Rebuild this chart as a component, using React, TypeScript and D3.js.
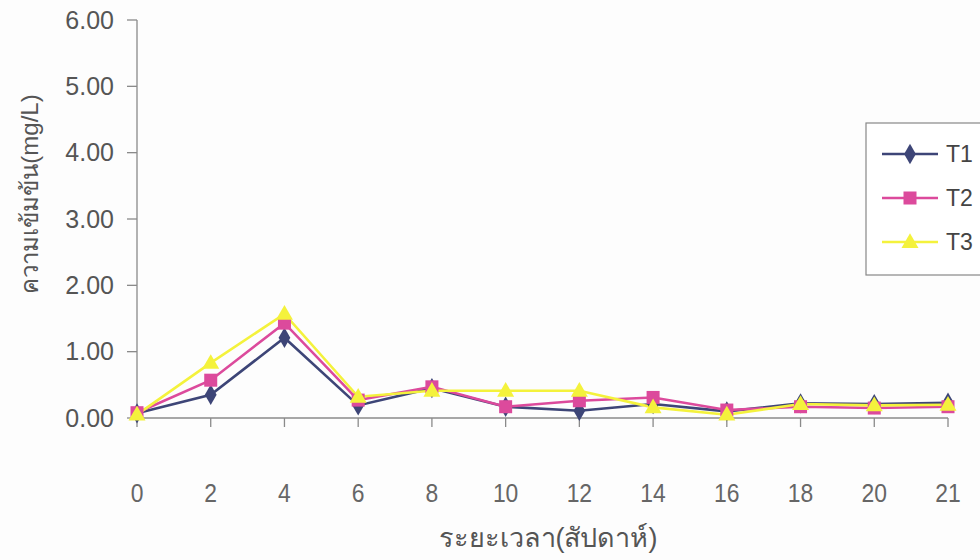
import React from "react";
import * as d3 from "d3";

const weeks = ["0", "2", "4", "6", "8", "10", "12", "14", "16", "18", "20", "21"];
const t1 = [0.07, 0.35, 1.21, 0.19, 0.45, 0.17, 0.11, 0.21, 0.1, 0.22, 0.21, 0.23];
const t2 = [0.08, 0.57, 1.43, 0.27, 0.47, 0.17, 0.26, 0.31, 0.12, 0.17, 0.15, 0.17];
const t3 = [0.05, 0.83, 1.57, 0.32, 0.41, 0.41, 0.41, 0.16, 0.05, 0.21, 0.19, 0.2];
const yTicks = [0, 1, 2, 3, 4, 5, 6];
const seriesNames = ["T1", "T2", "T3"];
const seriesColors = ["#3d4577", "#dc4a9c", "#f4f23c"];
const seriesMarkers = ["diamond", "square", "triangle"];

const W = 980, H = 560;
const x = d3.scalePoint<string>().domain(weeks).range([137, 948]);
const y = d3.scaleLinear().domain([0, 6]).range([418, 20]);

function marker(type: string, cx: number, cy: number, color: string, key?: string | number) {
  if (type === "diamond") {
    const s = d3.symbol(d3.symbolDiamond, 120)();
    return <path key={key} d={s || ""} transform={`translate(${cx},${cy})`} fill={color} />;
  }
  if (type === "square") {
    return <rect key={key} x={cx - 6.5} y={cy - 6.5} width={13} height={13} fill={color} />;
  }
  const s = d3.symbol(d3.symbolTriangle, 125)();
  return <path key={key} d={s || ""} transform={`translate(${cx},${cy + 1})`} fill={color} />;
}

export default function App() {
  const data = [t1, t2, t3];
  const line = d3
    .line<number>()
    .x((_, i) => x(weeks[i]) as number)
    .y((d) => y(d));
  const font = "'Liberation Sans', Arial, 'Noto Sans', sans-serif";
  return (
    <svg
      width={W}
      height={H}
      style={{ position: "absolute", left: 0, top: 0, background: "#fdfdfd" }}
      fontFamily={font}
    >
      {/* y axis */}
      <line x1={137} x2={137} y1={y(6)} y2={y(0)} stroke="#8a8a8a" strokeWidth={1.3} />
      {yTicks.map((t) => (
        <g key={t}>
          <line x1={127} x2={137} y1={y(t)} y2={y(t)} stroke="#8a8a8a" strokeWidth={1.3} />
          <text x={114} y={y(t)} dy="0.35em" textAnchor="end" fontSize={25} fill="#555">
            {t.toFixed(2)}
          </text>
        </g>
      ))}
      {/* x axis */}
      <line x1={137} x2={948} y1={y(0)} y2={y(0)} stroke="#8a8a8a" strokeWidth={1.3} />
      {weeks.map((w) => (
        <g key={w}>
          <line x1={x(w)} x2={x(w)} y1={y(0)} y2={y(0) + 9} stroke="#8a8a8a" strokeWidth={1.3} />
          <text
            x={x(w)}
            y={502}
            textAnchor="middle"
            fontSize={26}
            fill="#666"
            transform={`translate(${x(w)!},0) scale(0.88,1) translate(${-x(w)!},0)`}
          >
            {w}
          </text>
        </g>
      ))}
      {/* series lines */}
      {data.map((d, i) => (
        <path key={i} d={line(d) || ""} fill="none" stroke={seriesColors[i]} strokeWidth={2.6} />
      ))}
      {data.map((d, i) => (
        <g key={"m" + i}>
          {d.map((v, j) => marker(seriesMarkers[i], x(weeks[j]) as number, y(v), seriesColors[i], j))}
        </g>
      ))}
      {/* axis titles */}
      <text
        transform="translate(38,194) rotate(-90)"
        textAnchor="middle"
        fontSize={24}
        fill="#555"
      >
        ความเข้มข้น(mg/L)
      </text>
      <text x={548} y={547} textAnchor="middle" fontSize={27} fill="#555">
        ระยะเวลา(สัปดาห์)
      </text>
      {/* legend */}
      <rect x={866} y={123} width={130} height={152} fill="#fff" stroke="#888" strokeWidth={1.2} />
      {seriesNames.map((n, i) => {
        const ly = 154 + i * 44;
        return (
          <g key={n}>
            <line x1={882} x2={938} y1={ly} y2={ly} stroke={seriesColors[i]} strokeWidth={2.4} />
            {marker(seriesMarkers[i], 910, ly, seriesColors[i])}
            <text x={946} y={ly} dy="0.36em" fontSize={23} fill="#444">
              {n}
            </text>
          </g>
        );
      })}
    </svg>
  );
}
